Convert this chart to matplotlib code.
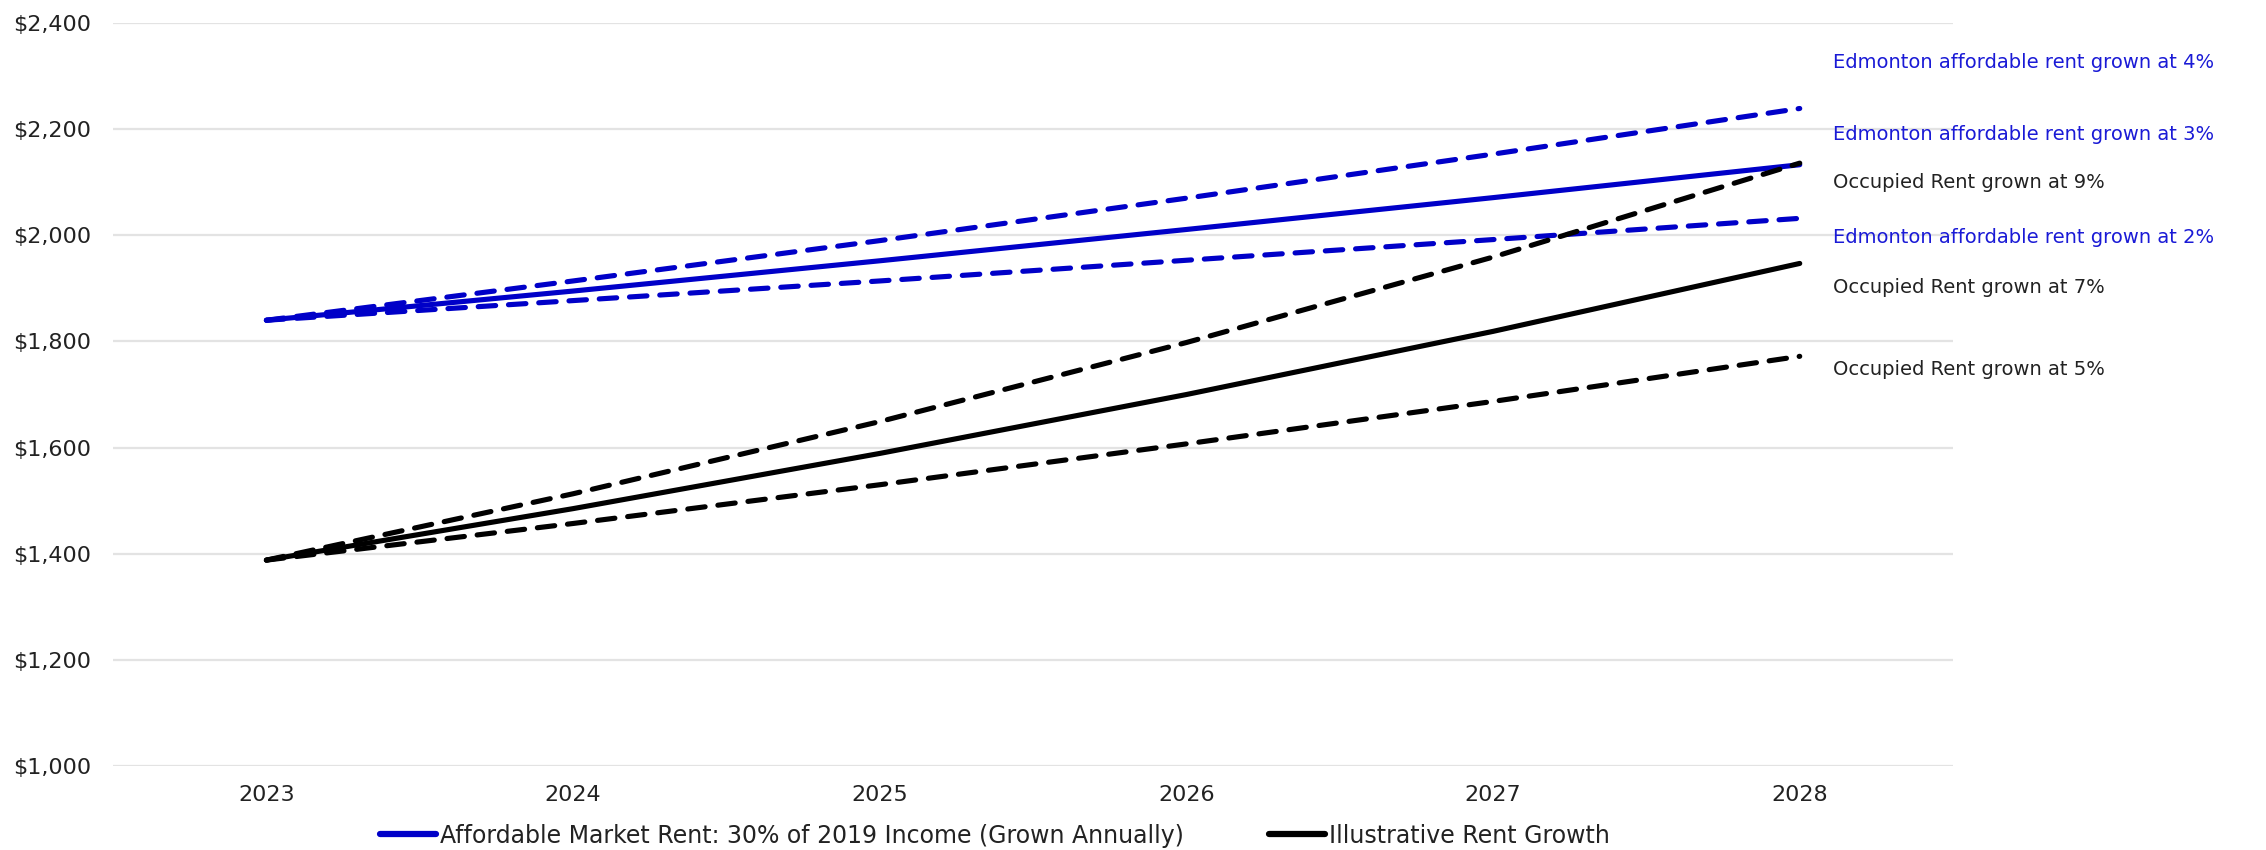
import matplotlib
matplotlib.use("Agg")
import matplotlib.pyplot as plt
from matplotlib.ticker import FuncFormatter
from matplotlib.lines import Line2D

years = ["2023", "2024", "2025", "2026", "2027", "2028"]

# affordable rent (30% of 2019 income), grown annually
afford_3 = [1840, 1895, 1952, 2011, 2071, 2133]
afford_4 = [1840, 1914, 1990, 2070, 2153, 2239]
afford_2 = [1840, 1877, 1914, 1953, 1992, 2032]

# occupied rent scenarios
occupied_7 = [1388, 1485, 1589, 1700, 1819, 1947]
occupied_9 = [1388, 1513, 1649, 1798, 1959, 2136]
occupied_5 = [1388, 1457, 1530, 1607, 1687, 1772]

BLUE = "#0000c8"
BLUE_TXT = "#1a1ad6"
BLACK = "#000000"

plt.rcParams["font.family"] = "DejaVu Sans"

fig = plt.figure(figsize=(22.66, 8.5), dpi=100)
ax = fig.add_axes([0.0499, 0.0988, 0.812, 0.8741])

x = list(range(len(years)))
lw = 3.7
dash = (3.4, 2.5)

series = [
    (afford_4, BLUE, "--", "Edmonton affordable rent grown at 4%", BLUE_TXT, -46),
    (afford_3, BLUE, "-", "Edmonton affordable rent grown at 3%", BLUE_TXT, -30),
    (afford_2, BLUE, "--", "Edmonton affordable rent grown at 2%", BLUE_TXT, 19),
    (occupied_9, BLACK, "--", "Occupied Rent grown at 9%", "#222222", 19),
    (occupied_7, BLACK, "-", "Occupied Rent grown at 7%", "#222222", 24),
    (occupied_5, BLACK, "--", "Occupied Rent grown at 5%", "#222222", 13),
]

for vals, color, style, label, tcolor, dy in series:
    if style == "--":
        ax.plot(x, vals, color=color, lw=lw, dashes=dash,
                dash_capstyle="round", solid_capstyle="round", zorder=3)
    else:
        ax.plot(x, vals, color=color, lw=lw, solid_capstyle="round", zorder=3)
    # end-of-line label, offset in points
    ax.annotate(label, xy=(x[-1], vals[-1]), xytext=(24, -dy * 0.72),
                textcoords="offset points", ha="left", va="center",
                fontsize=14, color=tcolor, annotation_clip=False)

ax.set_xlim(-0.5, len(years) - 0.5)
ax.set_ylim(1000, 2400)
ax.set_yticks(range(1000, 2401, 200))
ax.set_xticks(x)
ax.set_xticklabels(years)
ax.yaxis.set_major_formatter(FuncFormatter(lambda v, p: f"${v:,.0f}"))

ax.grid(axis="y", color="#e3e3e3", lw=1.6)
ax.set_axisbelow(True)
for s in ax.spines.values():
    s.set_visible(False)
ax.tick_params(axis="both", length=0, labelsize=16, colors="#222222")
ax.tick_params(axis="x", pad=14)
ax.tick_params(axis="y", pad=16)

handles = [Line2D([0], [0], color=BLUE, lw=4.5, solid_capstyle="round"),
           Line2D([0], [0], color=BLACK, lw=4.5, solid_capstyle="round")]
fig.legend(handles,
           ["Affordable Market Rent: 30% of 2019 Income (Grown Annually)",
            "Illustrative Rent Growth"],
           loc="center", bbox_to_anchor=(0.439, 0.017), ncol=2, frameon=False,
           fontsize=17, handlelength=2.4, handletextpad=0.15,
           columnspacing=3.6, borderpad=0, labelcolor="#222222")

fig.savefig("out.png", dpi=100, facecolor="white")
